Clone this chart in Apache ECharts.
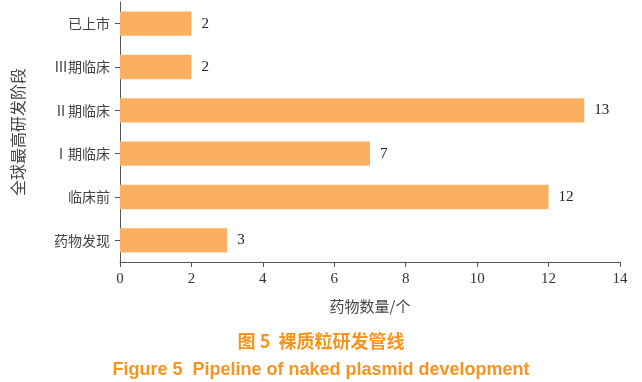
<!DOCTYPE html>
<html><head><meta charset="utf-8">
<script src="https://cdn.jsdelivr.net/npm/echarts@6/dist/echarts.min.js"></script>
<style>html,body{margin:0;padding:0;background:#fff}#c{width:642px;height:382px}</style>
</head><body><div id="c"></div>
<script>
const categories = ['药物发现', '临床前', 'Ⅰ期临床', 'Ⅱ期临床', 'Ⅲ期临床', '已上市'];
const counts = [3, 12, 7, 13, 2, 2];
const xTicks = [0, 14, 2];
const titleCn = '图 5  裸质粒研发管线';
const titleEn = 'Figure 5  Pipeline of naked plasmid development';
const xName = '药物数量/个';
const yName = '全球最高研发阶段';

const chart = echarts.init(document.getElementById('c'));
const axisColor = '#555';
const cjk = '"Noto Sans CJK SC", sans-serif';
const serif = '"Liberation Serif", "Noto Sans CJK SC", serif';
chart.setOption({
  animation: false,
  title: [
    {text: titleCn, left: 'center', top: 327, textStyle: {color: '#F7941D', fontSize: 18, fontWeight: 'bold', fontFamily: cjk}},
    {text: titleEn, left: 'center', top: 356, textStyle: {color: '#F7941D', fontSize: 18, fontWeight: 'bold', fontFamily: '"Liberation Sans", "Noto Sans", sans-serif'}}
  ],
  grid: {left: 120, right: 22, top: 2, bottom: 120},
  xAxis: {
    type: 'value', min: xTicks[0], max: xTicks[1], interval: xTicks[2],
    name: xName, nameLocation: 'middle', nameGap: 37,
    nameTextStyle: {color: '#444', fontSize: 15, fontFamily: cjk},
    axisLine: {show: true, lineStyle: {color: axisColor}},
    axisTick: {show: true, length: 5, lineStyle: {color: axisColor}},
    axisLabel: {color: '#333', fontSize: 15, fontFamily: serif, margin: 10},
    splitLine: {show: false}
  },
  yAxis: {
    type: 'category', data: categories,
    name: yName, nameLocation: 'middle', nameGap: 94, nameRotate: 90,
    nameTextStyle: {color: '#444', fontSize: 16, fontFamily: cjk},
    axisLine: {show: true, lineStyle: {color: axisColor}},
    axisTick: {show: true, alignWithLabel: true, length: 5, lineStyle: {color: axisColor}},
    axisLabel: {color: '#444', fontSize: 14, fontFamily: cjk, margin: 10}
  },
  series: [{
    type: 'bar', data: counts, barCategoryGap: '44%',
    itemStyle: {color: '#FBB061'},
    label: {show: true, position: 'right', distance: 10, color: '#222', fontSize: 15, fontFamily: serif}
  }]
});
</script></body></html>
